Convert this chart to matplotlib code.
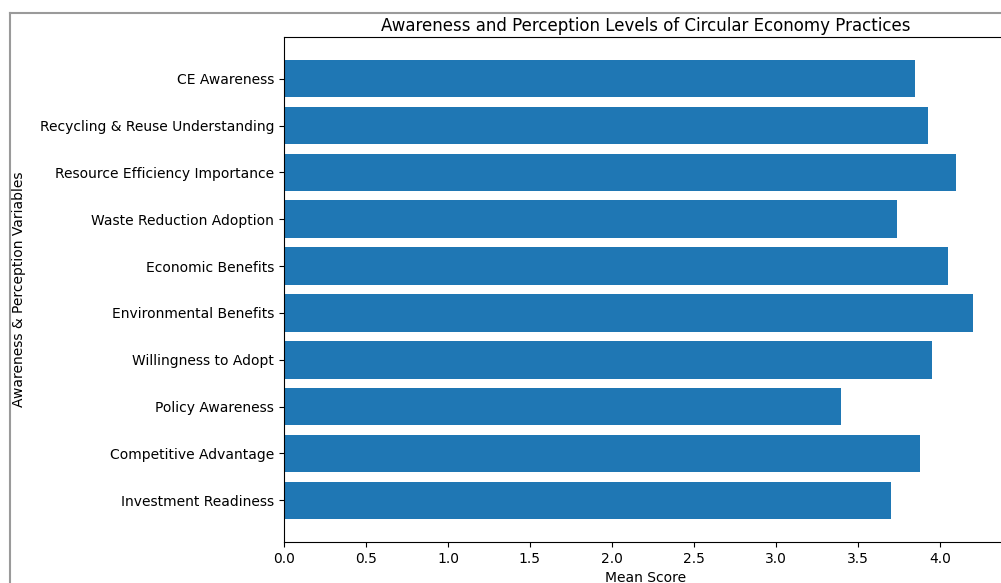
import matplotlib
matplotlib.use("Agg")
import matplotlib.pyplot as plt
from matplotlib.lines import Line2D

variables = ["CE Awareness", "Recycling & Reuse Understanding", "Resource Efficiency Importance",
             "Waste Reduction Adoption", "Economic Benefits", "Environmental Benefits",
             "Willingness to Adopt", "Policy Awareness", "Competitive Advantage",
             "Investment Readiness"]
mean_scores = [3.85, 3.93, 4.10, 3.74, 4.05, 4.20, 3.95, 3.40, 3.88, 3.70]

fig = plt.figure(figsize=(10.01, 5.83), dpi=100)
ax = fig.add_axes([284 / 1001, 41 / 583, 723 / 1001, 505 / 583])

ax.barh(variables[::-1], mean_scores[::-1], color="#1f77b4")
ax.set_title("Awareness and Perception Levels of Circular Economy Practices", fontsize=12, pad=4)
ax.set_xlabel("Mean Score")
ax.set_ylabel("Awareness & Perception Variables")
ax.yaxis.set_label_coords(-0.357, 0.5)

# grey frame of the screenshot
fig.add_artist(Line2D([10 / 1001, 10 / 1001], [0, 1 - 13 / 583], color="#9a9a9a", lw=1.5))
fig.add_artist(Line2D([10 / 1001, 1], [1 - 13 / 583, 1 - 13 / 583], color="#9a9a9a", lw=1.5))

fig.savefig("out.png", dpi=100)
